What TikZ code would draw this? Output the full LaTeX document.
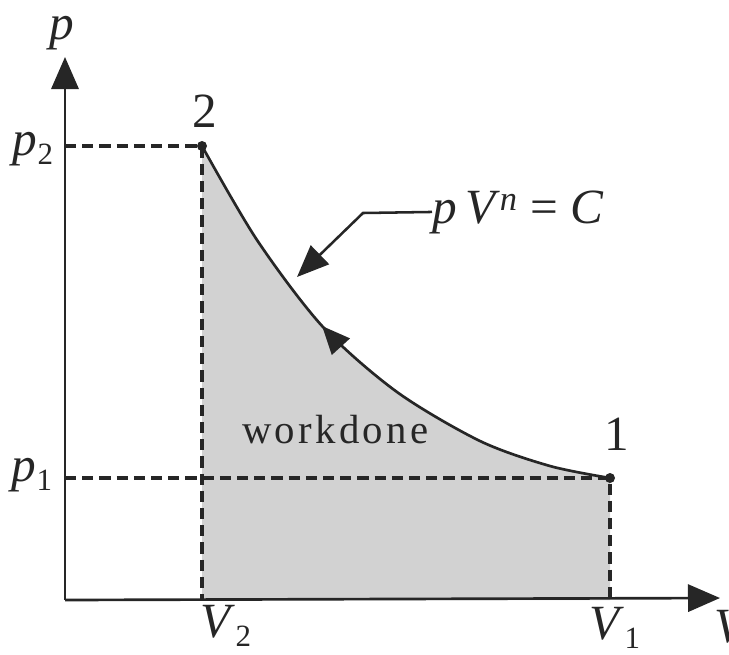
\documentclass[tikz,border=0pt]{standalone}
\usepackage{fontspec}
\setmainfont{Liberation Serif}
\newfontfamily\spacedserif[LetterSpace=8]{Liberation Serif}
\usepackage{tikz}
\usetikzlibrary{arrows.meta,decorations.markings,positioning}
\definecolor{ink}{HTML}{262626}
\definecolor{areaGray}{HTML}{D2D2D2}
\newcommand{\lowidx}[1]{\raisebox{-0.42ex}{\fontsize{22}{26}\selectfont #1}}

\begin{document}
\begin{tikzpicture}[x=0.025cm,y=-0.025cm,
    axis/.style={draw=ink,line width=1.9pt,-{Triangle[length=0.8cm,width=0.68cm]}},
    guide/.style={draw=ink,line width=2.2pt,dash pattern=on 0.28cm off 0.15cm},
    lbl/.style={font=\fontsize{35}{40}\selectfont,text=ink,inner sep=0pt},
    statept/.style={circle,fill=ink,inner sep=0pt,minimum size=0.25cm}]
    \useasboundingbox (0,0) rectangle (729,654);
    \def\isocurve{(202,146) (257,240) (323,327) (397,392) (480,441) (550,466) (610,478)}

    % axes and state points
    \coordinate (O) at (65,600);
    \coordinate (ptop) at (65,57);
    \coordinate (vend) at (720,598);
    \coordinate (s2) at (202,146);
    \coordinate (s1) at (610,478);
    \coordinate (v2) at (202,600);
    \coordinate (v1) at (610,600);
    \coordinate (a2) at (65,146);
    \coordinate (a1) at (65,478);

    % work area under the curve
    \fill[areaGray] (v2) -- plot[smooth] coordinates {\isocurve} -- (v1) -- cycle;

    \draw[guide] (a2) -- (s2) -- (v2);
    \draw[guide] (a1) -- (s1) -- (v1);

    \draw[draw=ink,line width=1.9pt,postaction={decorate},
      decoration={markings,mark=at position 0.395 with {\arrowreversed[ink]{Triangle[length=0.7cm,width=0.6cm]}}}]
      plot[smooth] coordinates {\isocurve};

    \draw[axis] (O) -- (ptop);
    \draw[axis] (O) -- (vend);

    \node[statept] (pt2) at (s2) {};
    \node[statept] (pt1) at (s1) {};

    % labels
    \node[lbl,anchor=base] (plab) at (62,39) {\textit{p}};
    \node[lbl,anchor=base] (lab2) at (205,127) {2};
    \node[lbl,anchor=base] (lab1) at (617,450) {1};
    \node[lbl,anchor=base] (p2lab) at (33,155) {\textit{p}\lowidx{2}};
    \node[lbl,anchor=base] (p1lab) at (32,481) {\textit{p}\lowidx{1}};
    \node[lbl,anchor=base] (v2lab) at (226,637) {\textit{V}\lowidx{2}};
    \node[lbl,anchor=base] (v1lab) at (615,639) {\textit{V}\lowidx{1}};
    \node[lbl,anchor=base west] (vlab) at (714,642) {\textit{V}};
    \node[lbl,anchor=base west,font=\fontsize{35}{40}\selectfont] (pvc) at (432,223)
      {\textit{p\,V}\textsuperscript{\textit{n}} = \textit{C}};
    \node[lbl,anchor=base west,font=\spacedserif\fontsize{29}{34}\selectfont] (work) at (242,443) {workdone};

    % pointer to the curve
    \coordinate (kink) at (363,213);
    \coordinate (tipc) at (297,277);
    \draw[draw=ink,line width=1.8pt,-{Triangle[length=0.8cm,width=0.65cm]}]
      (pvc.west) -- (kink) -- (tipc);
\end{tikzpicture}
\end{document}
